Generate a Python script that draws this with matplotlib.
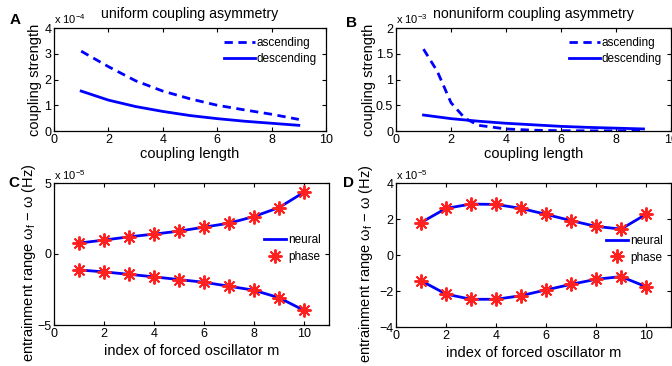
import numpy as np
import matplotlib
matplotlib.use("Agg")
import matplotlib.pyplot as plt

plt.rcParams['font.family'] = ['Liberation Sans', 'DejaVu Sans']
plt.rcParams['mathtext.fontset'] = 'custom'
plt.rcParams['mathtext.rm'] = 'Liberation Sans'
plt.rcParams['mathtext.it'] = 'Liberation Sans'

# panel A / B: coupling strength vs coupling length
longueur = [1, 2, 3, 4, 5, 6, 7, 8, 9]
unif_asc = [3.1, 2.5, 1.95, 1.55, 1.25, 1.0, 0.82, 0.65, 0.45]      # x 1e-4
unif_desc = [1.55, 1.2, 0.95, 0.76, 0.6, 0.48, 0.38, 0.3, 0.22]     # x 1e-4

nonu_x = [1, 1.5, 2, 2.5, 3, 4, 5, 6, 7, 8, 9]
nonu_asc = [1.59, 1.16, 0.55, 0.25, 0.11, 0.04, 0.015, 0.006, 0.003, 0.002, 0.001]  # x 1e-3
nonu_desc = [0.31, 0.275, 0.24, 0.215, 0.19, 0.15, 0.12, 0.09, 0.07, 0.055, 0.04]    # x 1e-3

# panel C / D: entrainment range
indice = [1, 2, 3, 4, 5, 6, 7, 8, 9, 10]
c_haut = [0.77, 0.98, 1.21, 1.40, 1.61, 1.89, 2.17, 2.64, 3.27, 4.35]   # x 1e-5
c_bas = [-1.12, -1.26, -1.43, -1.61, -1.80, -1.99, -2.27, -2.55, -3.08, -3.97]
d_haut = [1.80, 2.59, 2.83, 2.81, 2.59, 2.26, 1.91, 1.59, 1.44, 2.26]
d_bas = [-1.43, -2.17, -2.46, -2.46, -2.26, -1.94, -1.63, -1.35, -1.20, -1.76]

W, H = 672, 366
fig = plt.figure(figsize=(W / 100, H / 100), dpi=100)


def boite(l, r, t, b):
    return [l / W, 1 - b / H, (r - l) / W, (b - t) / H]


def style(ax):
    ax.tick_params(direction='in', top=True, right=True, labelsize=9,
                   length=3, width=0.8, pad=2)
    for s in ax.spines.values():
        s.set_linewidth(0.9)


axA = fig.add_axes(boite(54, 326, 28, 131))
axB = fig.add_axes(boite(396, 671, 28, 131))
axC = fig.add_axes(boite(54, 329, 183, 325))
axD = fig.add_axes(boite(396, 671, 183, 327))

# A
axA.plot(longueur, unif_asc, '--', color='blue', lw=2, dashes=(3, 2), label='ascending')
axA.plot(longueur, unif_desc, '-', color='blue', lw=2, label='descending')
axA.set_xlim(0, 10)
axA.set_ylim(0, 4)
axA.set_xticks([0, 2, 4, 6, 8, 10])
axA.set_yticks([0, 1, 2, 3, 4])
axA.set_title('uniform coupling asymmetry', fontsize=10.2, pad=7)

# B
axB.plot(nonu_x, nonu_asc, '--', color='blue', lw=2, dashes=(3, 2), label='ascending')
axB.plot(nonu_x, nonu_desc, '-', color='blue', lw=2, label='descending')
axB.set_xlim(0, 10)
axB.set_ylim(0, 2)
axB.set_xticks([0, 2, 4, 6, 8, 10])
axB.set_yticks([0, 0.5, 1, 1.5, 2])
axB.set_yticklabels(['0', '0.5', '1', '1.5', '2'])
axB.set_title('nonuniform coupling asymmetry', fontsize=10.2, pad=7)

for ax, exp, xl in ((axA, '-4', -0.045), (axB, '-3', -0.073)):
    style(ax)
    ax.set_xlabel('coupling length', fontsize=10.5, labelpad=1)
    ax.set_ylabel('coupling strength', fontsize=10.5)
    ax.yaxis.set_label_coords(xl, 0.5)
    ax.text(0, 1.02, r'x 10$^{%s}$' % exp, transform=ax.transAxes, fontsize=8,
            ha='left', va='bottom')
    ax.legend(loc='upper right', frameon=False, fontsize=8.5, handlelength=2.6,
              handletextpad=0.15, labelspacing=0.3, borderaxespad=0.4)

# C et D
for ax, haut, bas, lim, ticks, xl in ((axC, c_haut, c_bas, 5, [-5, 0, 5], -0.06),
                                      (axD, d_haut, d_bas, 4, [-4, -2, 0, 2, 4], -0.075)):
    ax.plot(indice, haut, '-', color='blue', lw=2, label='neural')
    ax.plot(indice, bas, '-', color='blue', lw=2)
    ax.plot(indice, haut, ls='none', marker=(8, 2, 0), ms=10, mew=1.4,
            color='#ff2020', label='phase')
    ax.plot(indice, bas, ls='none', marker=(8, 2, 0), ms=10, mew=1.4, color='#ff2020')
    ax.set_xlim(0, 11)
    ax.set_ylim(-lim, lim)
    ax.set_xticks([0, 2, 4, 6, 8, 10])
    ax.set_yticks(ticks)
    ax.set_yticklabels([str(t).replace('-', '\u2212') for t in ticks])
    style(ax)
    ax.set_xlabel('index of forced oscillator m', fontsize=10.5, labelpad=3)
    ax.set_ylabel('entrainment range $\\omega_f$ \u2212 $\\omega$ (Hz)', fontsize=10.5)
    ax.yaxis.set_label_coords(xl, 0.44)
    ax.text(0, 1.01, r'x 10$^{-5}$', transform=ax.transAxes, fontsize=8,
            ha='left', va='bottom')
    ax.legend(loc='center right', bbox_to_anchor=(1.0, 0.54), frameon=False,
              fontsize=8.5, handlelength=1.9, handletextpad=0.15, labelspacing=0.4,
              borderaxespad=0.3)

# lettres des panneaux
for lettre, x, y in (('A', 10, 20), ('B', 346, 23), ('C', 8, 183), ('D', 343, 183)):
    fig.text(x / W, 1 - y / H, lettre, fontsize=11, fontweight='bold',
             ha='left', va='center')

fig.savefig('out.png', dpi=100)
